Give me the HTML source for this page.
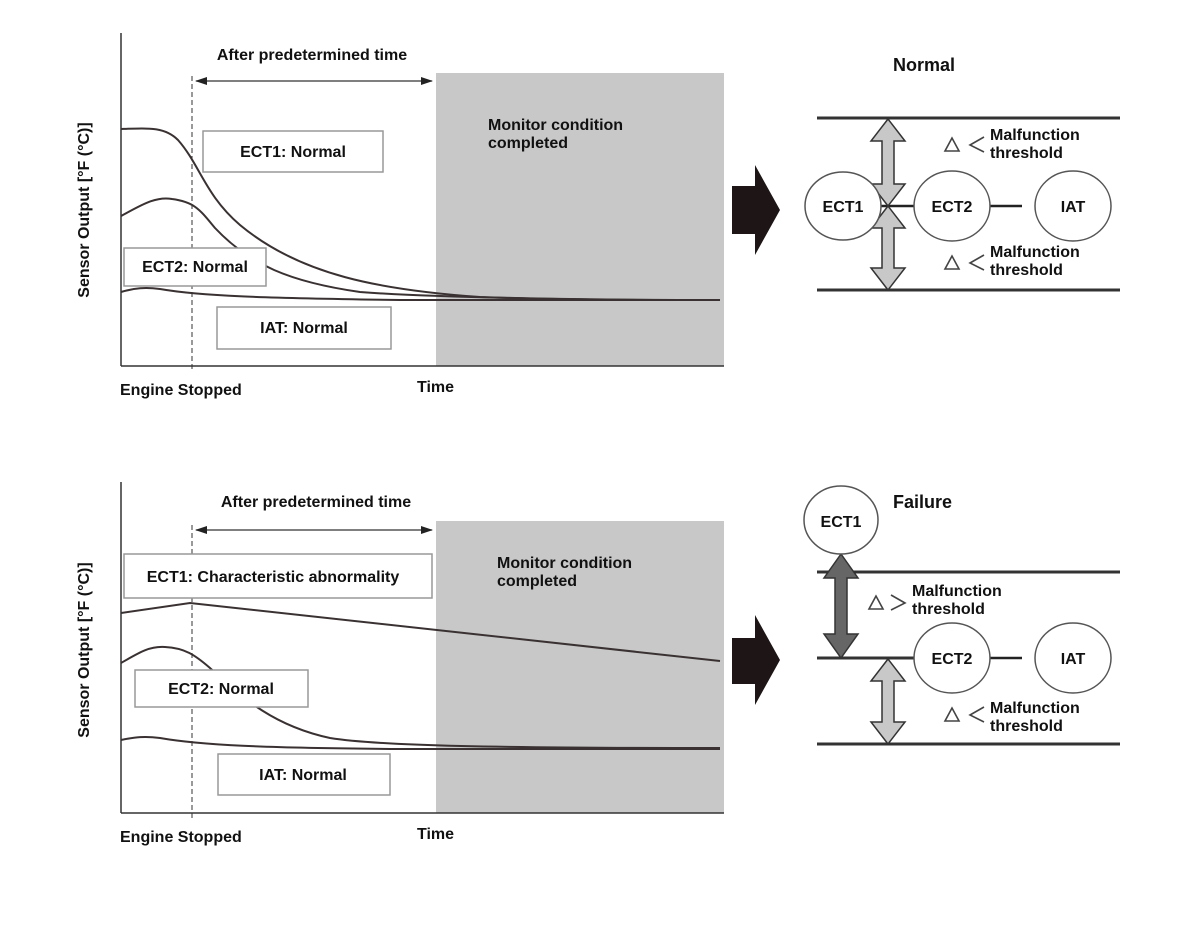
<!DOCTYPE html>
<html><head><meta charset="utf-8"><style>
html,body{margin:0;padding:0;background:#fff;}
svg{display:block;}
text{font-family:"Liberation Sans",Arial,sans-serif;font-weight:bold;fill:#111;}
</style></head><body>
<svg width="1200" height="925" viewBox="0 0 1200 925" xmlns="http://www.w3.org/2000/svg">
<defs>
<marker id="ah" markerWidth="12" markerHeight="8" refX="11" refY="4" orient="auto-start-reverse" markerUnits="userSpaceOnUse"><path d="M0,0 L12,4 L0,8 Z" fill="#222"/></marker>
</defs>

<!-- ================= TOP CHART ================= -->
<rect x="436" y="73" width="288" height="293" fill="#c8c8c8"/>
<line x1="121" y1="33" x2="121" y2="366" stroke="#333" stroke-width="1.5"/>
<line x1="121" y1="366" x2="724" y2="366" stroke="#333" stroke-width="1.5"/>
<line x1="192" y1="76" x2="192" y2="372" stroke="#333" stroke-width="1" stroke-dasharray="5,3"/>
<line x1="196" y1="81" x2="432" y2="81" stroke="#333" stroke-width="1.3" marker-start="url(#ah)" marker-end="url(#ah)"/>
<text x="312" y="60" font-size="16" text-anchor="middle">After predetermined time</text>
<g fill="none" stroke="#3a3232" stroke-width="2">
<path d="M121,129 C150,128 165,127 178,140 C200,165 205,195 240,225 C300,275 380,290 480,297 C560,300 650,300 720,300"/>
<path d="M121,216 C140,206 155,196 172,199 C195,202 200,210 215,228 C250,265 290,282 360,292 C440,298 600,300 720,300"/>
<path d="M121,292 C135,288 145,287 160,289 C200,296 260,298 400,300 C500,300 620,300 720,300"/>
</g>
<g fill="#fff" stroke="#999" stroke-width="1.5">
<rect x="203" y="131" width="180" height="41"/>
<rect x="124" y="248" width="142" height="38"/>
<rect x="217" y="307" width="174" height="42"/>
</g>
<text x="293" y="157" font-size="16" text-anchor="middle">ECT1: Normal</text>
<text x="195" y="272" font-size="16" text-anchor="middle">ECT2: Normal</text>
<text x="304" y="333" font-size="16" text-anchor="middle">IAT: Normal</text>
<text x="488" y="130" font-size="16">Monitor condition</text>
<text x="488" y="148" font-size="16">completed</text>
<text x="120" y="395" font-size="16">Engine Stopped</text>
<text x="417" y="392" font-size="16">Time</text>
<text transform="translate(89,210) rotate(-90)" font-size="16" text-anchor="middle">Sensor Output [°F (°C)]</text>

<!-- ================= BOTTOM CHART ================= -->
<rect x="436" y="521" width="288" height="292" fill="#c8c8c8"/>
<line x1="121" y1="482" x2="121" y2="813" stroke="#333" stroke-width="1.5"/>
<line x1="121" y1="813" x2="724" y2="813" stroke="#333" stroke-width="1.5"/>
<line x1="192" y1="525" x2="192" y2="820" stroke="#333" stroke-width="1" stroke-dasharray="5,3"/>
<line x1="196" y1="530" x2="432" y2="530" stroke="#333" stroke-width="1.3" marker-start="url(#ah)" marker-end="url(#ah)"/>
<text x="316" y="507" font-size="16" text-anchor="middle">After predetermined time</text>
<g fill="none" stroke="#3a3232" stroke-width="2">
<path d="M121,613 L190,603 L720,661"/>
<path d="M121,663 C140,652 150,646 165,647 C185,648 195,655 210,668 C240,695 270,725 330,738 C380,746 500,748 720,748"/>
<path d="M121,740 C135,737 145,736 160,738 C200,745 260,748 400,749 C500,749 620,749 720,749"/>
</g>
<g fill="#fff" stroke="#999" stroke-width="1.5">
<rect x="124" y="554" width="308" height="44"/>
<rect x="135" y="670" width="173" height="37"/>
<rect x="218" y="754" width="172" height="41"/>
</g>
<text x="273" y="582" font-size="16" text-anchor="middle">ECT1: Characteristic abnormality</text>
<text x="221" y="694" font-size="16" text-anchor="middle">ECT2: Normal</text>
<text x="303" y="780" font-size="16" text-anchor="middle">IAT: Normal</text>
<text x="497" y="568" font-size="16">Monitor condition</text>
<text x="497" y="586" font-size="16">completed</text>
<text x="120" y="842" font-size="16">Engine Stopped</text>
<text x="417" y="839" font-size="16">Time</text>
<text transform="translate(89,650) rotate(-90)" font-size="16" text-anchor="middle">Sensor Output [°F (°C)]</text>

<!-- ================= TOP RIGHT (Normal) ================= -->
<path d="M732,186 L755,186 L755,165 L780,210 L755,255 L755,234 L732,234 Z" fill="#1e1616"/>
<text x="893" y="71" font-size="18">Normal</text>
<line x1="817" y1="118" x2="1120" y2="118" stroke="#333" stroke-width="3"/>
<line x1="817" y1="290" x2="1120" y2="290" stroke="#333" stroke-width="3"/>
<line x1="878" y1="206" x2="916" y2="206" stroke="#222" stroke-width="2.5"/>
<line x1="988" y1="206" x2="1022" y2="206" stroke="#222" stroke-width="2.5"/>
<g fill="#c8c8c8" stroke="#333" stroke-width="1.5">
<polygon points="888,119 905,141 894,141 894,184 905,184 888,206 871,184 882,184 882,141 871,141"/>
<polygon points="888,206 905,228 894,228 894,268 905,268 888,290 871,268 882,268 882,228 871,228"/>
</g>
<g fill="#fff" stroke="#555" stroke-width="1.5">
<ellipse cx="843" cy="206" rx="38" ry="34"/>
<ellipse cx="952" cy="206" rx="38" ry="35"/>
<ellipse cx="1073" cy="206" rx="38" ry="35"/>
</g>
<text x="843" y="212" font-size="16" text-anchor="middle">ECT1</text>
<text x="952" y="212" font-size="16" text-anchor="middle">ECT2</text>
<text x="1073" y="212" font-size="16" text-anchor="middle">IAT</text>
<g fill="none" stroke="#444" stroke-width="1.6">
<polygon points="952,138 945,151 959,151"/>
<polyline points="984,137 970,145 984,152"/>
<polygon points="952,256 945,269 959,269"/>
<polyline points="984,255 970,263 984,270"/>
</g>
<text x="990" y="140" font-size="16">Malfunction</text>
<text x="990" y="158" font-size="16">threshold</text>
<text x="990" y="257" font-size="16">Malfunction</text>
<text x="990" y="275" font-size="16">threshold</text>

<!-- ================= BOTTOM RIGHT (Failure) ================= -->
<path d="M732,638 L755,638 L755,615 L780,660 L755,705 L755,684 L732,684 Z" fill="#1e1616"/>
<text x="893" y="508" font-size="18">Failure</text>
<line x1="817" y1="572" x2="1120" y2="572" stroke="#333" stroke-width="3"/>
<line x1="817" y1="658" x2="914" y2="658" stroke="#333" stroke-width="3"/>
<line x1="817" y1="744" x2="1120" y2="744" stroke="#333" stroke-width="3"/>
<polygon points="841,554 858,578 847,578 847,634 858,634 841,658 824,634 835,634 835,578 824,578" fill="#666" stroke="#333" stroke-width="1.5"/>
<polygon points="888,659 905,681 894,681 894,722 905,722 888,744 871,722 882,722 882,681 871,681" fill="#c8c8c8" stroke="#333" stroke-width="1.5"/>
<line x1="988" y1="658" x2="1022" y2="658" stroke="#222" stroke-width="2.5"/>
<g fill="#fff" stroke="#555" stroke-width="1.5">
<ellipse cx="841" cy="520" rx="37" ry="34"/>
<ellipse cx="952" cy="658" rx="38" ry="35"/>
<ellipse cx="1073" cy="658" rx="38" ry="35"/>
</g>
<text x="841" y="527" font-size="16" text-anchor="middle">ECT1</text>
<text x="952" y="664" font-size="16" text-anchor="middle">ECT2</text>
<text x="1073" y="664" font-size="16" text-anchor="middle">IAT</text>
<g fill="none" stroke="#444" stroke-width="1.6">
<polygon points="876,596 869,609 883,609"/>
<polyline points="891,595 905,603 891,610"/>
<polygon points="952,708 945,721 959,721"/>
<polyline points="984,707 970,715 984,722"/>
</g>
<text x="912" y="596" font-size="16">Malfunction</text>
<text x="912" y="614" font-size="16">threshold</text>
<text x="990" y="713" font-size="16">Malfunction</text>
<text x="990" y="731" font-size="16">threshold</text>
</svg>
</body></html>
